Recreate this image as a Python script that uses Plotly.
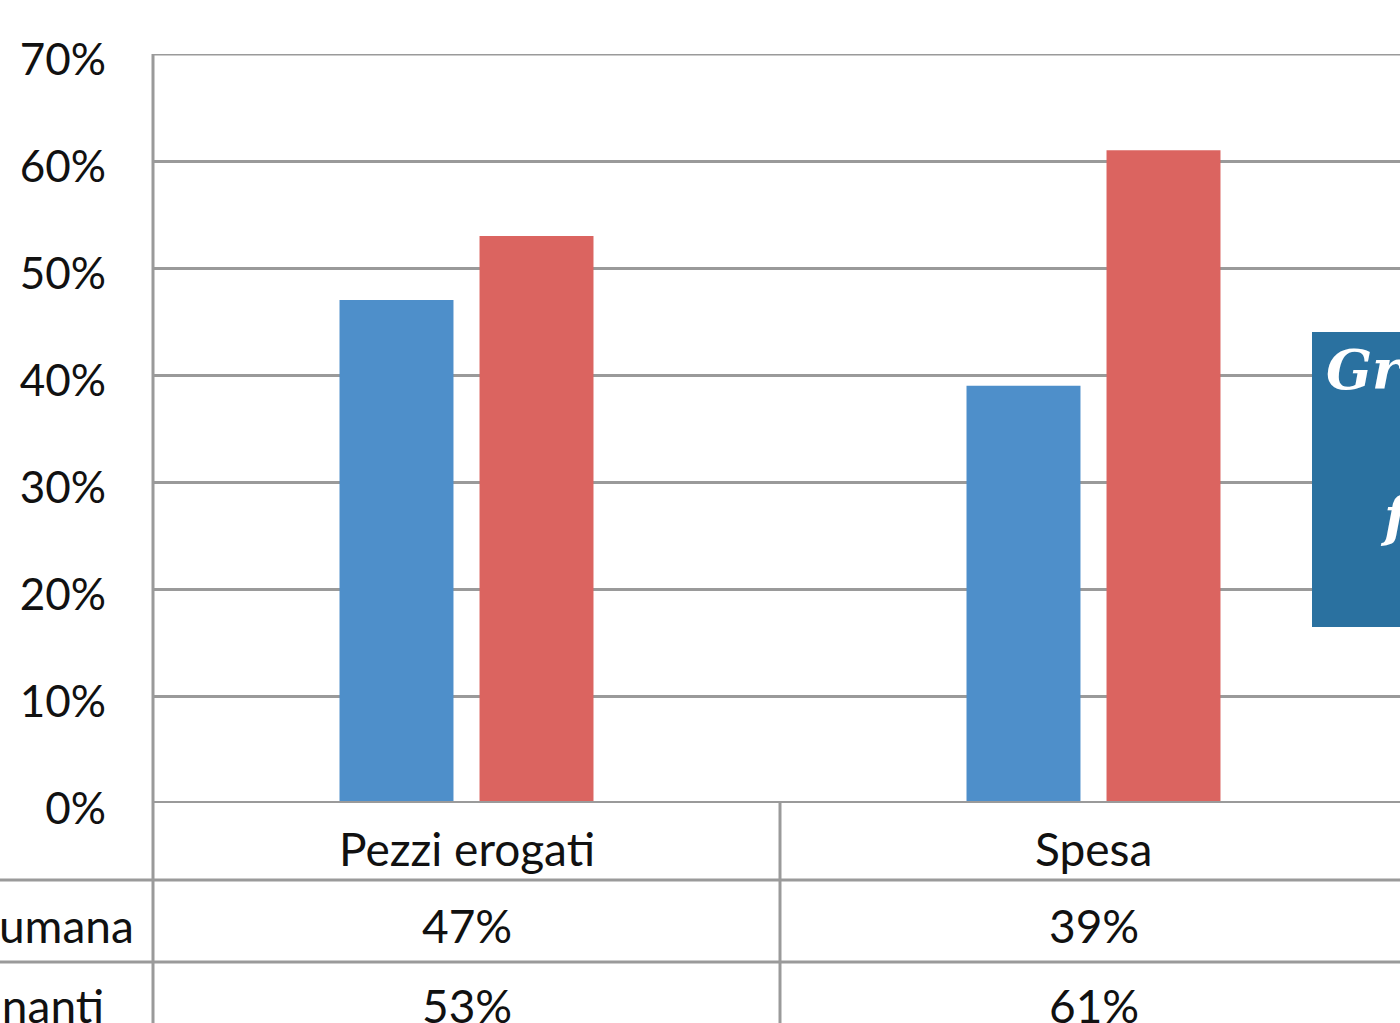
import plotly.graph_objects as go

# ---- data ----
categories = ["Pezzi erogati", "Spesa"]
series_names = ["Insulina umana", "Analoghi ricombinanti"]
insulina_umana = [47, 39]
analoghi = [53, 61]
y_ticks = [0, 10, 20, 30, 40, 50, 60, 70]
y_tick_labels = [f"{v}%" for v in y_ticks]
box_lines = ["Grafico 1", "farmaci"]

# ---- layout geometry (pixels) ----
W, H = 1400, 1023
L = 153
T = 54
BOTTOM = 803
B = H - BOTTOM
plot_w = W - L
plot_h = BOTTOM - T
cat_px = 627

def px_x(px):
    """screen px -> paper x"""
    return (px - L) / plot_w

def px_y(py):
    """screen py -> paper y"""
    return (BOTTOM - py) / plot_h

BLUE = "#4E8FCA"
RED = "#DB6460"
GRID = "#9A9A9A"
FONT = "Lato"
TXT = "#111111"

fig = go.Figure()
fig.add_trace(go.Bar(x=categories, y=insulina_umana, name=series_names[0],
                     marker=dict(color=BLUE, line=dict(width=0))))
fig.add_trace(go.Bar(x=categories, y=analoghi, name=series_names[1],
                     marker=dict(color=RED, line=dict(width=0))))

shapes = []
# top gridline (70%)
shapes.append(dict(type="line", xref="paper", yref="y", x0=0, x1=1, y0=y_ticks[-1], y1=y_ticks[-1],
                   line=dict(color=GRID, width=3), layer="below"))
# baseline (0%)
shapes.append(dict(type="line", xref="paper", yref="y", x0=0, x1=1, y0=0, y1=0,
                   line=dict(color=GRID, width=4), layer="above"))
# vertical axis line extending through table
shapes.append(dict(type="line", xref="paper", yref="paper", x0=0, x1=0, y0=1, y1=px_y(H + 30),
                   line=dict(color=GRID, width=3), layer="above"))
# table horizontal lines
for py in (880, 962):
    shapes.append(dict(type="line", xref="paper", yref="paper", x0=px_x(-30), x1=1.05,
                       y0=px_y(py), y1=px_y(py), line=dict(color=GRID, width=3)))
# vertical dividers between categories
for xv in (0.5, 1.5):
    shapes.append(dict(type="line", xref="x", yref="paper", x0=xv, x1=xv, y0=0, y1=px_y(H + 30),
                       line=dict(color=GRID, width=3)))
# blue title box (cropped at right)
shapes.append(dict(type="rect", xref="paper", yref="paper", x0=px_x(1312), x1=px_x(1800),
                   y0=px_y(627), y1=px_y(332), fillcolor="#2A71A0", line=dict(width=0),
                   layer="above"))

annotations = []
# category header row
for i, c in enumerate(categories):
    annotations.append(dict(x=i, xref="x", y=px_y(848), yref="paper", text=c, showarrow=False,
                            font=dict(family=FONT, size=46, color=TXT), xanchor="center", yanchor="middle"))
# value rows
for vals, py in [(insulina_umana, 925), (analoghi, 1006)]:
    for i, v in enumerate(vals):
        annotations.append(dict(x=i, xref="x", y=px_y(py), yref="paper", text=f"{v}%", showarrow=False,
                                font=dict(family=FONT, size=46, color=TXT), xanchor="center", yanchor="middle"))
# row labels (cropped at left)
for name, px_end, py in [(series_names[0], 136, 925), (series_names[1], 106, 1006)]:
    annotations.append(dict(x=px_x(px_end), xref="paper", y=px_y(py), yref="paper", text=name,
                            showarrow=False, font=dict(family=FONT, size=46, color=TXT),
                            xanchor="right", yanchor="middle"))
# box text
annotations.append(dict(x=px_x(1324), xref="paper", y=px_y(370), yref="paper",
                        text=f"<b><i>{box_lines[0]}</i></b>",
                        showarrow=False, font=dict(family="DejaVu Serif", size=54, color="white"),
                        xanchor="left", yanchor="middle"))
annotations.append(dict(x=px_x(1378), xref="paper", y=px_y(516), yref="paper",
                        text=f"<b><i>{box_lines[1]}</i></b>",
                        showarrow=False, font=dict(family="DejaVu Serif", size=54, color="white"),
                        xanchor="left", yanchor="middle"))

fig.update_layout(
    width=W, height=H,
    margin=dict(l=L, r=0, t=T, b=B, pad=0),
    paper_bgcolor="white", plot_bgcolor="white",
    showlegend=False,
    barmode="group", bargap=0.5534, bargroupgap=0.186,
    shapes=shapes, annotations=annotations,
    xaxis=dict(range=[-0.5, -0.5 + plot_w / cat_px], showticklabels=False, showgrid=False,
               zeroline=False, showline=False, ticks=""),
    yaxis=dict(range=[0, 70], tickvals=y_ticks, ticktext=y_tick_labels, showgrid=True,
               gridcolor=GRID, gridwidth=3, zeroline=False, showline=False,
               ticks="", ticklabelstandoff=46, ticklabelshift=6,
               tickfont=dict(family=FONT, size=44, color=TXT)),
)

fig.write_html(
    "out.html",
    config={"displayModeBar": False},
    post_script="document.body.style.margin='0';document.body.style.overflow='hidden';",
)
